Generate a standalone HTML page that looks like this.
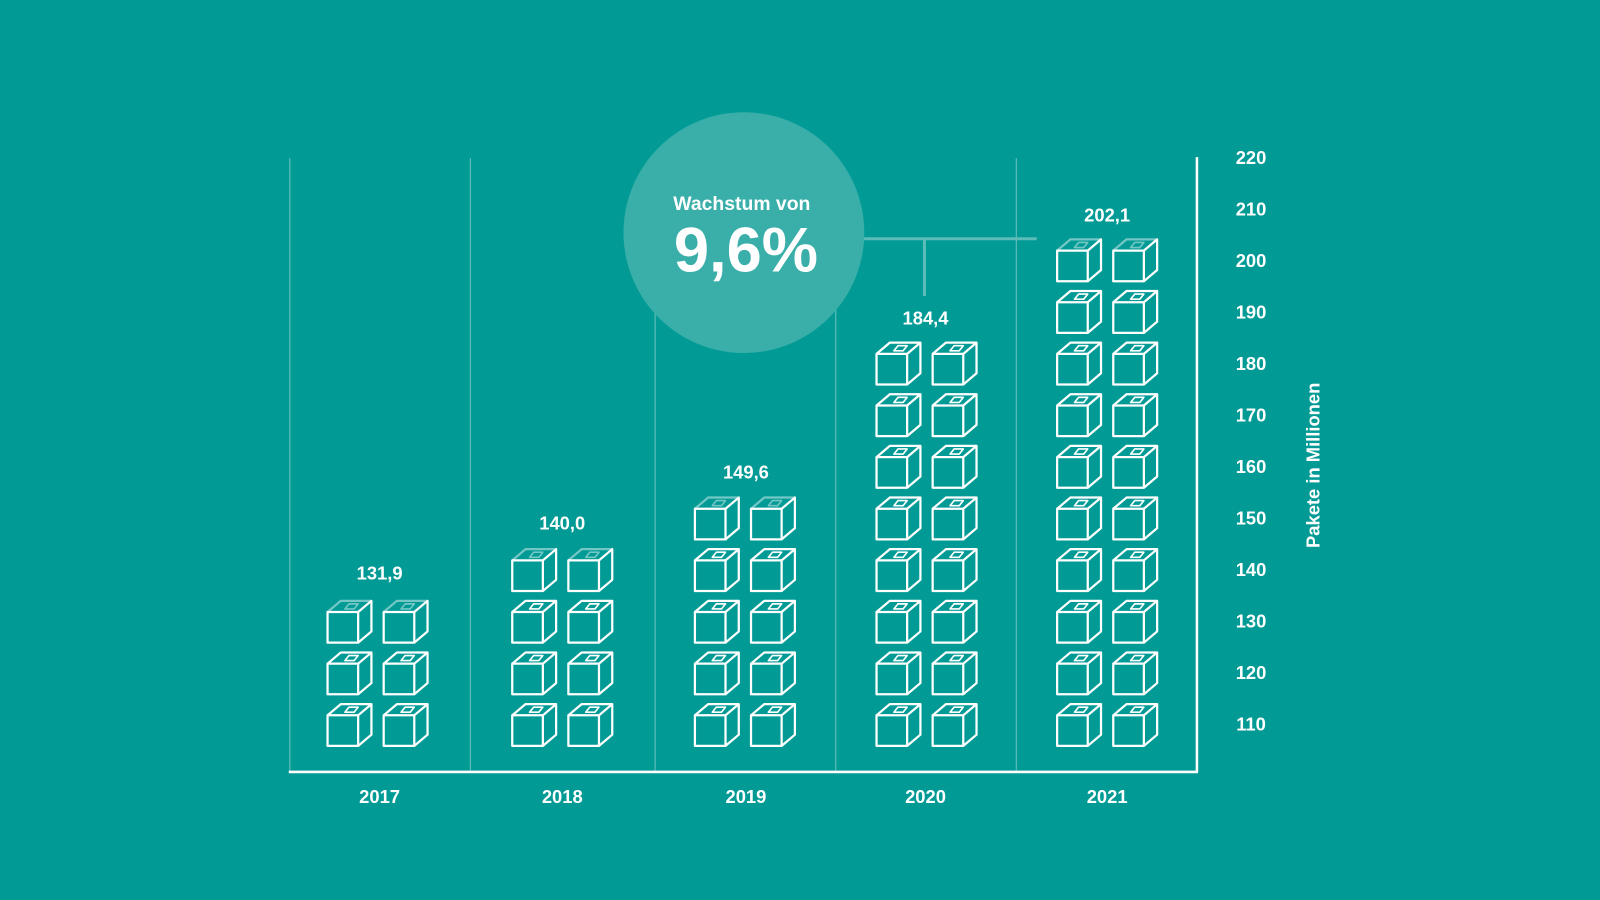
<!DOCTYPE html>
<html><head><meta charset="utf-8"><style>
html,body{margin:0;padding:0;background:#019a95;overflow:hidden}
svg{display:block}
text{font-family:"Liberation Sans",sans-serif;fill:#fff;font-weight:bold}
</style></head><body>
<svg id="s" width="1600" height="900" viewBox="0 0 1568 882" xmlns="http://www.w3.org/2000/svg">
<rect width="1568" height="882" fill="#019a95"/>
<g stroke="#5cbdb8" stroke-width="1.2">
<line x1="284" y1="155" x2="284" y2="756"/>
<line x1="461" y1="155" x2="461" y2="756"/>
<line x1="642" y1="155" x2="642" y2="756"/>
<line x1="819" y1="155" x2="819" y2="756"/>
<line x1="996" y1="155" x2="996" y2="756"/>
</g>
<g stroke="#fff" stroke-width="2.5">
<line x1="1173" y1="154" x2="1173" y2="757"/>
<line x1="283" y1="756.5" x2="1174" y2="756.5"/>
</g>
<g stroke="#5cbdb8" stroke-width="3" fill="none">
<line x1="845" y1="234" x2="1016" y2="234"/>
<line x1="906" y1="234" x2="906" y2="290"/>
</g>
<circle cx="729" cy="228" r="118" fill="#3aafa9"/>
<text x="727" y="206" font-size="19" text-anchor="middle">Wachstum von</text>
<text x="731" y="266" font-size="62" text-anchor="middle">9,6%</text>
<g id="cubes" fill="none" stroke="#fff" stroke-width="2.2" stroke-linejoin="round"></g>
<g font-size="18" text-anchor="middle">
<text x="372" y="568">131,9</text>
<text x="551" y="519">140,0</text>
<text x="731" y="469">149,6</text>
<text x="907" y="318">184,4</text>
<text x="1085" y="217">202,1</text>
<text x="372" y="787">2017</text>
<text x="551" y="787">2018</text>
<text x="731" y="787">2019</text>
<text x="907" y="787">2020</text>
<text x="1085" y="787">2021</text>
</g>
<g font-size="18" text-anchor="middle" id="yl"></g>
<text font-size="18" text-anchor="middle" transform="translate(1293,456) rotate(-90)">Pakete in Millionen</text>
</svg>
<script>
var g=document.getElementById('cubes'),ns='http://www.w3.org/2000/svg';
function el(t,a,p){var e=document.createElementNS(ns,t);for(var k in a)e.setAttribute(k,a[k]);(p||g).appendChild(e);return e;}
var cols=[[321,376,3,1],[502,557,4,1],[681,736,5,1],[859,914,8,0],[1036,1091,10,1]];
cols.forEach(function(c){for(var r=0;r<c[2];r++){[c[0],c[1]].forEach(function(x){
var b=731-50.6*r,t=b-30,w=30,dx=13,dy=11;
el('rect',{x:x,y:t,width:w,height:30});
el('polyline',{points:(x+w)+','+b+' '+(x+w+dx)+','+(b-dy)+' '+(x+w+dx)+','+(t-dy)+' '+(x+w)+','+t});
var top=el('g',{opacity:(c[3]&&r==c[2]-1)?0.45:1});
el('polyline',{points:x+','+t+' '+(x+dx)+','+(t-dy)+' '+(x+w+dx)+','+(t-dy)},top);
el('polygon',{points:(x+21)+','+(t-8)+' '+(x+30)+','+(t-8)+' '+(x+26)+','+(t-3)+' '+(x+17)+','+(t-3),'stroke-width':1.6},top);
});}});
var yl=document.getElementById('yl');
for(var v=110;v<=220;v+=10){var y=710-(v-110)*5.05+6;var tx=el('text',{x:1226,y:y},yl);tx.textContent=v;}
</script>
</body></html>
